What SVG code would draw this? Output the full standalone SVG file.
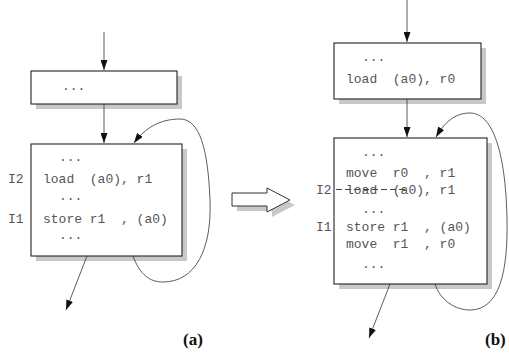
<svg xmlns="http://www.w3.org/2000/svg" width="509" height="357" viewBox="0 0 509 357">
  <defs>
    <marker id="head" viewBox="0 0 10 7" refX="10" refY="3.5" markerWidth="10" markerHeight="7" markerUnits="userSpaceOnUse" orient="auto">
      <path d="M0,0 L10,3.5 L0,7 z" fill="#111"/>
    </marker>
  </defs>
  <style>
    .box { fill: #fff; stroke: #222; stroke-width: 1.1; }
    .shadow { fill: #c8c8c8; }
    .code { font-family: "Liberation Mono", "Courier New", monospace; font-size: 13px; fill: #555; }
    .edge { fill: none; stroke: #333; stroke-width: 0.8; marker-end: url(#head); }
    .tag { font-family: "Liberation Serif", "Times New Roman", serif; font-size: 17px; font-weight: bold; fill: #111; }
  </style>
  <rect width="509" height="357" fill="#fff"/>

  <!-- (a) original loop -->
  <g id="a-pre">
    <rect class="shadow" x="36" y="76" width="146" height="33"/>
    <rect class="box" x="31" y="71" width="146" height="33"/>
    <text class="code" x="62" y="90">...</text>
  </g>
  <g id="a-loop">
    <rect class="shadow" x="36" y="149" width="151" height="112"/>
    <rect class="box" x="31" y="144" width="151" height="112"/>
    <text class="code" x="59" y="161">...</text>
    <text class="code" x="43" y="183" xml:space="preserve">load  (a0), r1</text>
    <text class="code" x="59" y="200">...</text>
    <text class="code" x="43" y="223" xml:space="preserve">store r1  , (a0)</text>
    <text class="code" x="59" y="239">...</text>
    <text class="code" x="8" y="183">I2</text>
    <text class="code" x="8" y="223">I1</text>
  </g>
  <text class="tag" x="183" y="345">(a)</text>

  <!-- transformation arrow -->
  <g id="transform">
    <path d="M237,198 L272,198 L272,193 L295,205 L272,217 L272,211 L237,211 z" fill="#c8c8c8"/>
    <path d="M232,193 L267,193 L267,188 L290,200 L267,212 L267,206 L232,206 z" fill="#fff" stroke="#333" stroke-width="1"/>
  </g>

  <!-- (b) transformed loop -->
  <g id="b-pre">
    <rect class="shadow" x="339" y="48" width="147" height="56"/>
    <rect class="box" x="334" y="43" width="147" height="56"/>
    <text class="code" x="362" y="61">...</text>
    <text class="code" x="346" y="83" xml:space="preserve">load  (a0), r0</text>
  </g>
  <g id="b-loop">
    <rect class="shadow" x="339" y="143" width="153" height="146"/>
    <rect class="box" x="334" y="138" width="153" height="146"/>
    <text class="code" x="362" y="156">...</text>
    <text class="code" x="346" y="177" xml:space="preserve">move  r0  , r1</text>
    <text class="code" x="346" y="194" xml:space="preserve">load  (a0), r1</text>
    <line x1="336" y1="189.5" x2="405" y2="189.5" stroke="#444" stroke-width="1" stroke-dasharray="6,3"/>
    <text class="code" x="362" y="213">...</text>
    <text class="code" x="346" y="231" xml:space="preserve">store r1  , (a0)</text>
    <text class="code" x="346" y="248" xml:space="preserve">move  r1  , r0</text>
    <text class="code" x="362" y="268">...</text>
    <text class="code" x="316" y="194">I2</text>
    <text class="code" x="316" y="231">I1</text>
  </g>
  <text class="tag" x="485" y="345">(b)</text>

  <!-- control-flow edges -->
  <g id="edges">
    <path class="edge" d="M104,32 L104,70"/>
    <path class="edge" d="M104,104 L104,143"/>
    <path class="edge" d="M133,256 C140,275 150,282 163,282 C195,282 212,250 210,200 C208,150 200,119 180,119 C160,119 145,128 134,143"/>
    <path class="edge" d="M87,256 L66,310"/>

    <path class="edge" d="M407,0 L407,42"/>
    <path class="edge" d="M407,99 L407,137"/>
    <path class="edge" d="M435,284 C440,300 455,310 470,310 C500,310 508,270 507,220 C506,160 495,113 470,113 C455,113 445,122 436,137"/>
    <path class="edge" d="M390,284 L369,338"/>
  </g>
</svg>
